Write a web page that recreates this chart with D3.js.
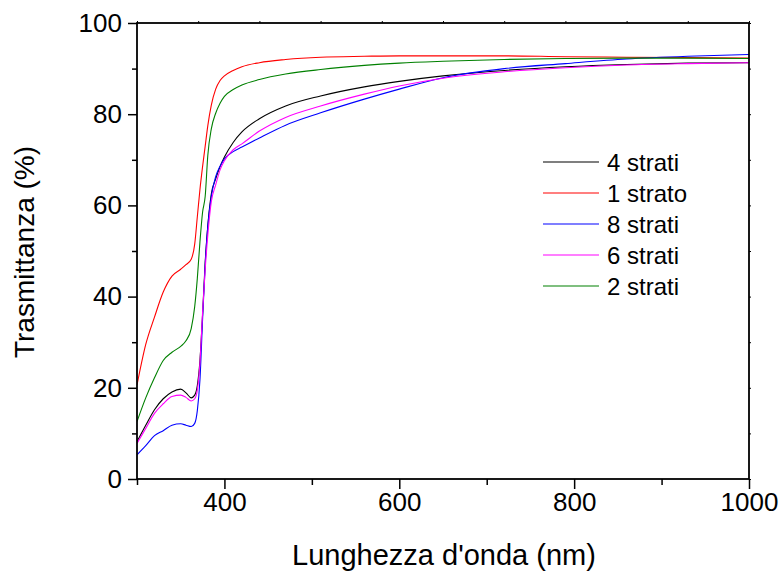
<!DOCTYPE html>
<html>
<head>
<meta charset="utf-8">
<script src="https://cdn.jsdelivr.net/npm/d3@7"></script>
<style>
html,body{margin:0;padding:0;background:#fff;}
svg{display:block;font-family:"Liberation Sans",Arial,sans-serif;}
</style>
</head>
<body>
<svg id="chart" width="782" height="571"></svg>
<script>
// Wavelength grid (nm)
const wavelengths = [300,310,320,330,340,350,356,362,366,369,372,375,378,381,385,390,395,400,410,420,440,470,510,560,600,650,720,790,860,930,1000];
// Transmittance (%) per sample
const strati4 = [8.2,11.8,15.2,17.6,19.1,19.7,18.9,17.8,18.4,20.5,26,36,47.5,55.5,62.5,65.8,68.5,70.6,73.8,76.1,79.0,81.8,84.0,86.0,87.2,88.4,89.6,90.4,90.9,91.2,91.3];
const strato1 = [20.6,29.5,35.5,41,44.5,46,47,48.2,51.5,57.5,63.5,68.5,73,77.5,82,85.5,87.4,88.4,89.6,90.4,91.3,92.0,92.5,92.7,92.8,92.8,92.8,92.6,92.5,92.4,92.3];
const strati8 = [5.3,7.3,9.5,10.6,11.8,12.1,11.8,11.5,12.2,15,21.7,35,47,55.5,62,66.3,68.6,70.2,71.8,72.8,74.8,77.6,80.3,83.3,85.5,88.0,90.0,91.1,92.1,92.7,93.1];
const strati6 = [7.8,11.1,14.4,16.5,18.1,18.4,17.9,17.1,17.6,19.5,25.5,36.5,46,53.5,60.8,64.5,67.8,69.8,72.2,73.5,76.3,79.3,81.8,84.4,86.2,87.9,89.3,90.2,90.8,91.1,91.3];
const strati2 = [12.6,17.8,22.2,26,27.8,29.1,30.3,33,37.8,44,52,58.5,62,71,76.8,80.2,82.4,83.9,85.4,86.4,87.6,88.8,89.8,90.7,91.2,91.6,92,92.2,92.3,92.3,92.2];

const seriesNames = ["4 strati","1 strato","8 strati","6 strati","2 strati"];
const seriesValues = [strati4, strato1, strati8, strati6, strati2];
const seriesColors = ["#000000","#ff0000","#0000ff","#ff00ff","#008000"];

const xTicks = [400,600,800,1000];
const xMinorTicks = [300,500,700,900];
const yTicks = [0,20,40,60,80,100];
const yMinorTicks = [10,30,50,70,90];

const svg = d3.select("#chart");
const L = 137, R = 749, T = 23, B = 479;
const x = d3.scaleLinear().domain([300,1000]).range([L,R]);
const y = d3.scaleLinear().domain([0,100]).range([B,T]);

svg.append("clipPath").attr("id","clip").append("rect")
  .attr("x",L).attr("y",T).attr("width",R-L).attr("height",B-T);

const line = d3.line().x((d,i)=>x(wavelengths[i])).y(d=>y(d)).curve(d3.curveMonotoneX);
const g = svg.append("g").attr("clip-path","url(#clip)");
seriesValues.forEach((vals,k)=>{
  g.append("path").datum(vals).attr("d",line)
    .attr("fill","none").attr("stroke",seriesColors[k]).attr("stroke-width",1.1);
});

svg.append("rect").attr("x",L).attr("y",T).attr("width",R-L).attr("height",B-T)
  .attr("fill","none").attr("stroke","#000").attr("stroke-width",1.8);

const fontTick = 26;
const xAxis = d3.axisBottom(x).tickValues(xTicks).tickSize(10).tickPadding(4).tickFormat(d3.format("d"));
const gx = svg.append("g").attr("transform",`translate(0,${B})`).call(xAxis);
gx.select(".domain").remove();
gx.selectAll("line").attr("stroke-width",1.5);
gx.selectAll("text").attr("font-size",fontTick).attr("font-family","Liberation Sans, Arial, sans-serif").attr("fill","#000");
const xAxisMinor = d3.axisBottom(x).tickValues(xMinorTicks).tickSize(6).tickFormat("");
const gxm = svg.append("g").attr("transform",`translate(0,${B})`).call(xAxisMinor);
gxm.select(".domain").remove();
gxm.selectAll("line").attr("stroke-width",1.5);

const yAxis = d3.axisLeft(y).tickValues(yTicks).tickSize(9).tickPadding(6).tickFormat(d3.format("d"));
const gy = svg.append("g").attr("transform",`translate(${L},0)`).call(yAxis);
gy.select(".domain").remove();
gy.selectAll("line").attr("stroke-width",1.5);
gy.selectAll("text").attr("font-size",fontTick).attr("font-family","Liberation Sans, Arial, sans-serif").attr("fill","#000");
const yAxisMinor = d3.axisLeft(y).tickValues(yMinorTicks).tickSize(5).tickFormat("");
const gym = svg.append("g").attr("transform",`translate(${L},0)`).call(yAxisMinor);
gym.select(".domain").remove();
gym.selectAll("line").attr("stroke-width",1.5);

const yAxisRight = d3.axisRight(y).tickValues(d3.range(0,101,10)).tickSize(2).tickFormat("");
const gyr = svg.append("g").attr("transform",`translate(${R},0)`).call(yAxisRight);
gyr.select(".domain").remove();
const xTop = d3.scaleLinear().domain([0,10]).range([L,R]);
const xAxisTop = d3.axisTop(xTop).tickValues(d3.range(0,11)).tickSize(2).tickFormat("");
const gxt = svg.append("g").attr("transform",`translate(0,${T})`).call(xAxisTop);
gxt.select(".domain").remove();

svg.append("text").attr("x",444).attr("y",565).attr("text-anchor","middle")
  .attr("font-size",29).text("Lunghezza d'onda (nm)");
svg.append("text").attr("transform","translate(34,252) rotate(-90)").attr("text-anchor","middle")
  .attr("font-size",28).text("Trasmittanza (%)");

const legY = d3.scaleLinear().domain([0,4]).range([162,286]);
seriesNames.forEach((name,k)=>{
  svg.append("line").attr("x1",543).attr("x2",599).attr("y1",legY(k)).attr("y2",legY(k))
    .attr("stroke",seriesColors[k]).attr("stroke-width",1.2);
  svg.append("text").attr("x",607).attr("y",legY(k)+8.5).attr("font-size",24).text(name);
});
</script>
</body>
</html>
